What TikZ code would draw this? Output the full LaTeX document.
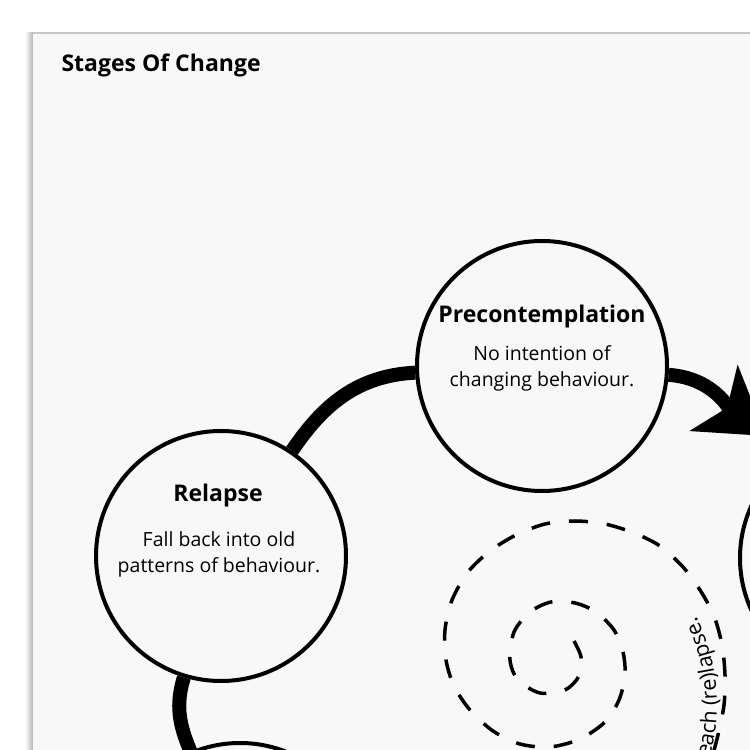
\documentclass[tikz,border=0pt]{standalone}
\usepackage{fontspec}
\setmainfont{Open Sans}
\usetikzlibrary{arrows.meta, decorations.text}
\definecolor{pagegray}{RGB}{248,248,248}
\newcommand{\spiralfont}{\fontsize{21.5}{26}\selectfont}
\tikzset{
	x=1pt, y=1pt, % one unit is one pixel of the sheet
	stage/.style={circle, draw, line width=4pt, fill=pagegray, minimum size=250pt, inner sep=0pt}, % the circles of the stages
	link/.style={line width=14pt}, % the thick lines of the cycle
	sheettitle/.style={font=\bfseries\fontsize{23}{28}\selectfont, anchor=base west}, % title in the corner
	stagehead/.style={font=\bfseries\fontsize{23}{27}\selectfont, anchor=base}, % name of a stage
	stagetext/.style={font=\fontsize{19.5}{26.5}\selectfont, align=center, anchor=base}, % what the stage means (placed by its last line)
	spiral/.style={line width=3.5pt, dash pattern=on 19pt off 19pt}, % the dashed spiral
}

\begin{document}
\begin{tikzpicture}
	\clip (0,0) rectangle (750,750);
	\fill[white] (0,0) rectangle (750,750);
	% the sheet
	\shade[left color=white, right color=black!30] (25,0) rectangle (33,717);
	\fill[pagegray] (33,0) rectangle (750,717);
	\draw[black!22, line width=1.2pt] (33,717) -- (750,717);
	\node[sheettitle] (title) at (58,678) {Stages Of Change};

	% stages
	\node[stage] (precon) at (542,384) {};
	\node[stage] (relapse) at (221,194) {};
	\node[stage] (contemp) at (865,192) {};
	\node[stage] (maint) at (240,-118) {};
	\coordinate (tip) at (766,314);

	\draw[link] (relapse) to[out=56, in=183] (precon);
	\draw[link, -{Stealth[length=64pt, width=80pt, inset=16pt]}] (precon) to[out=-4, in=144] (tip);
	\draw[link] (relapse) to[out=-107, in=113] (maint);

	\node[stagehead] (precon-head) at (542,427) {Precontemplation};
	\node[stagetext] (precon-text) at (542,363) {No intention of\\changing behaviour.};
	\node[stagehead] (relapse-head) at (218,248) {Relapse};
	\node[stagetext] (relapse-text) at (219,177) {Fall back into old\\patterns of behaviour.};

	% spiral in the middle
	\draw[spiral] plot[smooth] coordinates {(574,109) (581,93) (579,74) (565,60) (540,57) (518,70) (510,90) (514,118) (530,138) (551,148) (575,147) (596,138) (614,120) (623,98) (625,75) (619,50) (605,28) (580,11) (550,3) (520,6) (493,19) (470,40) (454,64) (446,90) (445,120) (452,150) (468,178) (490,199) (516,215) (545,226) (575,229) (605,226) (634,217) (660,204) (683,183) (700,160) (714,134) (722,105) (725,75) (724,45) (718,15) (710,-15)};
	\path[decorate, decoration={text along path, text={|\spiralfont|each (re)lapse.}}] (520,45) ++(-15.6:197) arc[start angle=-15.6, end angle=40, radius=197];
\end{tikzpicture}
\end{document}
